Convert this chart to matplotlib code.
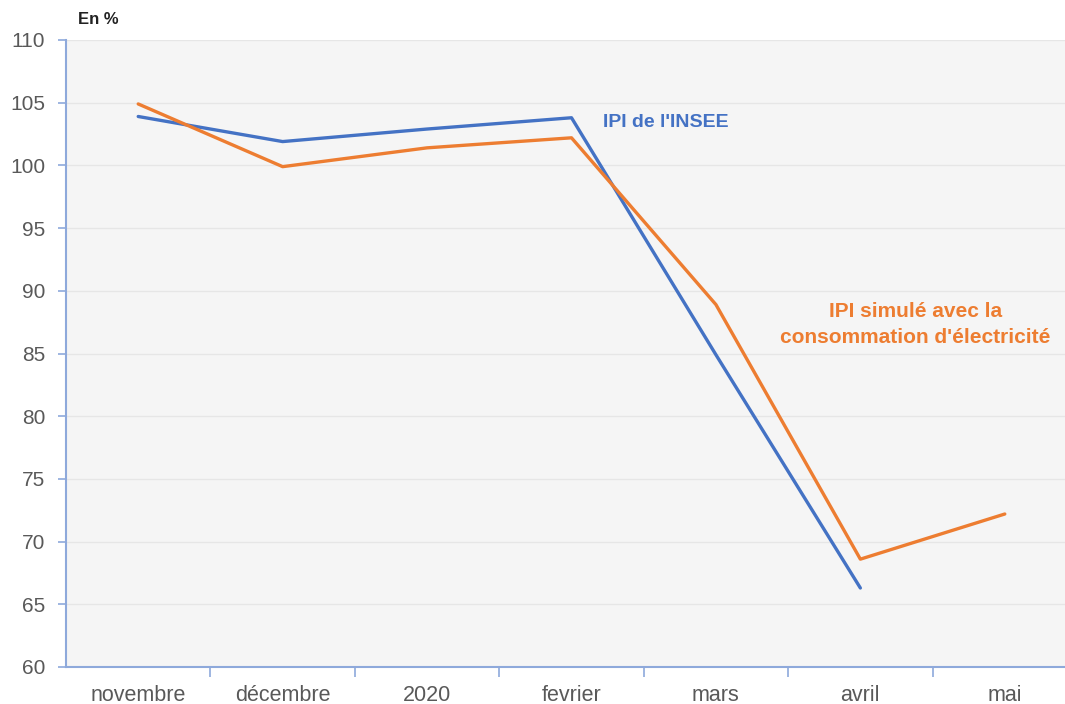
import matplotlib
matplotlib.use('Agg')
import matplotlib.pyplot as plt
import numpy as np

plt.rcParams['font.family'] = ['Liberation Sans', 'DejaVu Sans']

months = ['novembre', 'décembre', '2020', 'fevrier', 'mars', 'avril', 'mai']
ipi_insee = [103.9, 101.9, 102.9, 103.8, 84.9, 66.3]
ipi_elec = [104.9, 99.9, 101.4, 102.2, 88.9, 68.6, 72.2]

blue = '#4472C4'
orange = '#ED7D31'
axis_col = '#8EA9DB'
text_col = '#595959'

fig = plt.figure(figsize=(10.65, 7.04), dpi=100)
# right edge of the plot area runs past the crop of the original
ax = fig.add_axes([66 / 1065, 1 - 667 / 704, 1011 / 1065, 627 / 704])
ax.set_facecolor('#F5F5F5')

x = np.arange(len(months))
ax.plot(x[:len(ipi_insee)], ipi_insee, color=blue, linewidth=2.4, solid_capstyle='round', zorder=3)
ax.plot(x, ipi_elec, color=orange, linewidth=2.4, solid_capstyle='round', zorder=4)

ax.set_xlim(-0.5, len(months) - 0.5)
ax.set_ylim(60, 110)
ax.set_yticks(range(60, 111, 5))
ax.set_xticks(x)
ax.set_xticklabels(months)
ax.set_xticks(np.arange(0.5, len(months) - 0.5, 1), minor=True)
ax.tick_params(axis='x', which='major', length=0, pad=13, labelsize=15.5, labelcolor=text_col)
ax.tick_params(axis='x', which='minor', length=7, width=1.2, color=axis_col, direction='out')
ax.tick_params(axis='y', length=6, width=1.2, color=axis_col, pad=9, labelsize=15, labelcolor=text_col)

ax.grid(axis='y', color='#E6E6E6', linewidth=1)
ax.set_axisbelow(True)
for s in ['top', 'right']:
    ax.spines[s].set_visible(False)
for s in ['left', 'bottom']:
    ax.spines[s].set_color(axis_col)
    ax.spines[s].set_linewidth(1.5)

ax.text(3.65, 103.4, "IPI de l'INSEE", color=blue, fontsize=14, fontweight='bold',
        ha='center', va='center')
ax.text(5.38, 87.3, "IPI simulé avec la\nconsommation d'électricité", color=orange,
        fontsize=15, fontweight='bold', ha='center', va='center', linespacing=1.45)

fig.text(78 / 1065, 1 - 20 / 704, 'En %', fontsize=12, fontweight='bold', color='#222222',
         ha='left', va='center')

fig.savefig('out.png', dpi=100, facecolor='white')
